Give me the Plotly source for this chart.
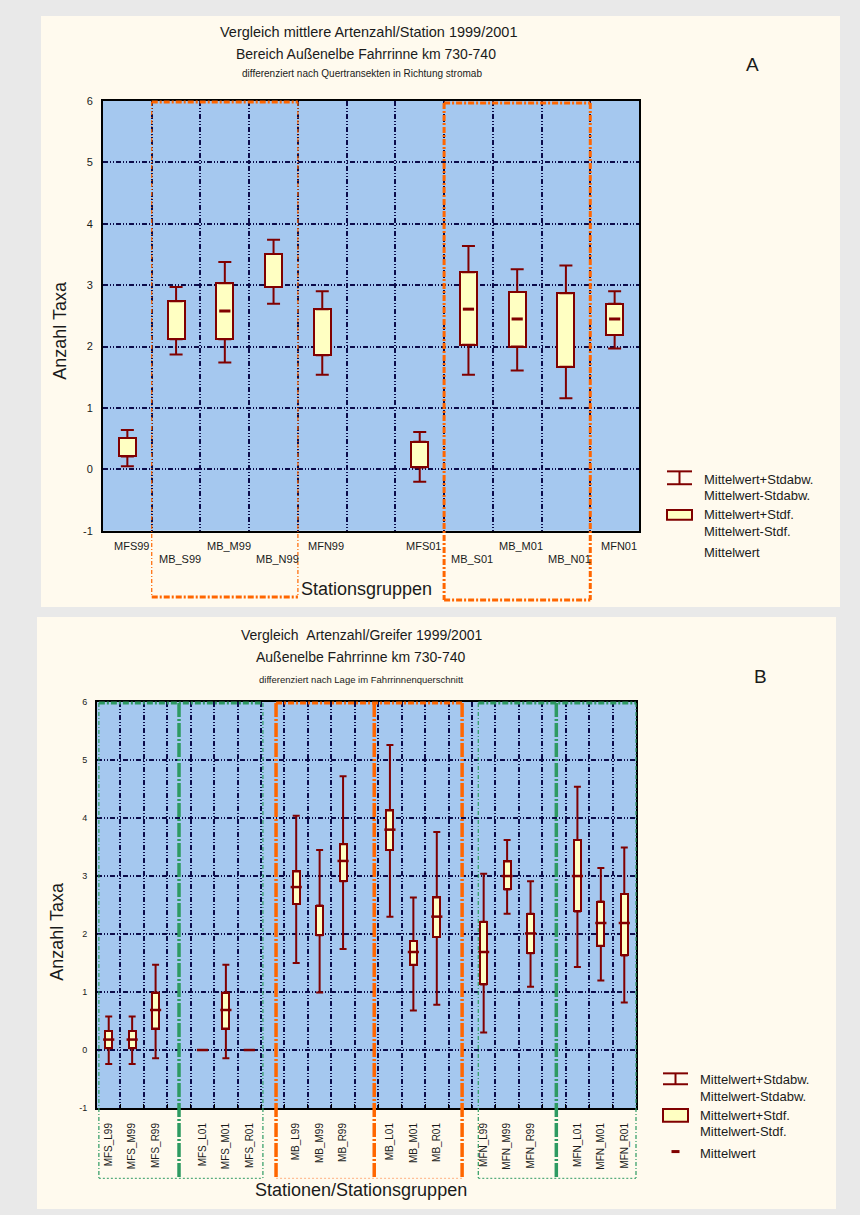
import plotly.graph_objects as go

W, H = 860, 1215

# ---------------- Panel A: Mittelwert / Station ----------------
cats_a = ["MFS99", "MB_S99", "MB_M99", "MB_N99", "MFN99", "",
          "MFS01", "MB_S01", "MB_M01", "MB_N01", "MFN01"]
sd_hi_a = [0.64, 2.97, 3.38, 3.74, 2.90, None, 0.61, 3.64, 3.26, 3.32, 2.90]
se_hi_a = [0.51, 2.74, 3.03, 3.51, 2.61, None, 0.45, 3.21, 2.89, 2.87, 2.70]
mean_a = [None, None, 2.58, None, None, None, None, 2.61, 2.45, None, 2.45]
se_lo_a = [0.21, 2.12, 2.12, 2.97, 1.86, None, 0.03, 2.03, 2.00, 1.67, 2.19]
sd_lo_a = [0.05, 1.87, 1.74, 2.70, 1.54, None, -0.20, 1.54, 1.61, 1.16, 1.97]

# ---------------- Panel B: Artenzahl / Greifer ----------------
cats_b = ["MFS_L99", "MFS_M99", "MFS_R99", "",
          "MFS_L01", "MFS_M01", "MFS_R01", "",
          "MB_L99", "MB_M99", "MB_R99", "",
          "MB_L01", "MB_M01", "MB_R01", "",
          "MFN_L99", "MFN_M99", "MFN_R99", "",
          "MFN_L01", "MFN_M01", "MFN_R01"]
sd_hi_b = [0.58, 0.58, 1.47, None, 0.0, 1.47, 0.0, None, 4.04, 3.45, 4.72, None,
           5.26, 2.63, 3.76, None, 3.04, 3.62, 2.91, None, 4.54, 3.14, 3.49]
se_hi_b = [0.33, 0.33, 0.99, None, 0.0, 0.99, 0.0, None, 3.08, 2.49, 3.55, None,
           4.13, 1.88, 2.63, None, 2.21, 3.25, 2.35, None, 3.62, 2.56, 2.69]
mean_b = [0.18, 0.18, 0.69, None, 0.0, 0.69, 0.0, None, 2.81, None, 3.26, None,
          3.80, 1.69, 2.30, None, 1.69, 3.00, 2.01, None, 3.00, 2.19, 2.19]
se_lo_b = [0.03, 0.03, 0.37, None, 0.0, 0.37, 0.0, None, 2.52, 1.98, 2.91, None,
           3.45, 1.47, 1.95, None, 1.13, 2.77, 1.67, None, 2.39, 1.80, 1.63]
sd_lo_b = [-0.24, -0.24, -0.14, None, 0.0, -0.14, 0.0, None, 1.50, 0.99, 1.74, None,
           2.30, 0.68, 0.78, None, 0.30, 2.35, 1.09, None, 1.43, 1.20, 0.82]

y_ticks = [-1, 0, 1, 2, 3, 4, 5, 6]

# group frames in panel B (x in category units)
green_groups_b = [(-0.42, 6.58), (15.77, 22.5)]
green_splits_b = [3.0, 19.1]
orange_lines_b = [7.14, 11.33, 15.08]
# group frames in panel A (x in category units)
orange_groups_a = [(0.5, 3.5), (6.5, 9.5)]

# ---------------- styling ----------------
FONT = "Liberation Sans, Arial, sans-serif"
RED = "#800000"
BOXFILL = "#ffffc2"
PANEL = "#fffaee"
PAGE = "#e9e9e9"
BLUE = "#a5c8ef"
GRID = "#0c0c4a"
ORANGE = "#ff6600"
GREEN = "#2e9a62"
GRIDDASH = "5px,2px,1px,2px,1px,2px"
TXT = "#1a1a1a"

# plot rectangles in pixels (left, right, top, bottom)
A_L, A_R, A_T, A_B = 103, 639, 96, 530
B_L, B_R, B_T, B_B = 97, 636, 703, 1113


def pxx(x):
    return x / W


def pxy(y):
    return 1 - y / H


def xa_paper(v, n, left, right):
    return pxx(left + (v + 0.5) / n * (right - left))


fig = go.Figure()


def add_boxes(cats, sd_hi, se_hi, mean, se_lo, sd_lo, xa, ya, bw, capw, msize, mwidth):
    idx = [i for i in range(len(cats)) if se_hi[i] is not None]
    fig.add_trace(go.Bar(
        x=idx, base=[se_lo[i] for i in idx], y=[se_hi[i] - se_lo[i] for i in idx],
        width=bw, marker=dict(color=BOXFILL, line=dict(color=RED, width=2)),
        xaxis=xa, yaxis=ya, showlegend=False, hoverinfo="skip"))
    # upper whisker: box top -> mean + SD
    fig.add_trace(go.Scatter(
        x=idx, y=[se_hi[i] for i in idx], mode="markers",
        marker=dict(size=1, color="rgba(0,0,0,0)"),
        error_y=dict(type="data", symmetric=False,
                     array=[sd_hi[i] - se_hi[i] for i in idx],
                     arrayminus=[0] * len(idx),
                     color=RED, thickness=2, width=capw),
        xaxis=xa, yaxis=ya, showlegend=False, hoverinfo="skip"))
    # lower whisker: box bottom -> mean - SD
    fig.add_trace(go.Scatter(
        x=idx, y=[se_lo[i] for i in idx], mode="markers",
        marker=dict(size=1, color="rgba(0,0,0,0)"),
        error_y=dict(type="data", symmetric=False,
                     array=[0] * len(idx),
                     arrayminus=[se_lo[i] - sd_lo[i] for i in idx],
                     color=RED, thickness=2, width=capw),
        xaxis=xa, yaxis=ya, showlegend=False, hoverinfo="skip"))
    mi = [i for i in range(len(cats)) if mean[i] is not None]
    fig.add_trace(go.Scatter(
        x=mi, y=[mean[i] for i in mi], mode="markers",
        marker=dict(symbol="line-ew", size=msize, color=RED,
                    line=dict(color=RED, width=mwidth)),
        xaxis=xa, yaxis=ya, showlegend=False, hoverinfo="skip"))


add_boxes(cats_a, sd_hi_a, se_hi_a, mean_a, se_lo_a, sd_lo_a, "x", "y", 0.35, 6.5, 8, 3)
add_boxes(cats_b, sd_hi_b, se_hi_b, mean_b, se_lo_b, sd_lo_b, "x2", "y2", 0.30, 3.5, 8, 2.5)

na, nb = len(cats_a), len(cats_b)

common_y = dict(range=[-1, 6], tickvals=y_ticks, ticktext=[str(v) for v in y_ticks],
                showgrid=True, gridcolor=GRID,
                gridwidth=2, griddash=GRIDDASH, zeroline=False, showline=True,
                mirror=True, linecolor="black", linewidth=2, ticks="",
                ticklabelstandoff=6)

fig.update_layout(
    width=W, height=H, autosize=False, margin=dict(l=0, r=0, t=0, b=0),
    paper_bgcolor=PAGE, plot_bgcolor="rgba(0,0,0,0)",
    barmode="overlay", bargap=0, showlegend=False,
    font=dict(family=FONT, color=TXT),
    xaxis=dict(domain=[pxx(A_L), pxx(A_R)], range=[-0.5, na - 0.5], anchor="y",
               tickvals=[], showticklabels=False, showgrid=False, zeroline=False,
               showline=True, mirror=True, linecolor="black", linewidth=2,
               minor=dict(tickvals=[i + 0.5 for i in range(na - 1)], showgrid=True,
                          gridcolor=GRID, gridwidth=2, griddash=GRIDDASH, ticks="")),
    yaxis=dict(domain=[pxy(A_B), pxy(A_T)], anchor="x",
               tickfont=dict(size=11, family=FONT, color=TXT), **common_y),
    xaxis2=dict(domain=[pxx(B_L), pxx(B_R)], range=[-0.5, nb - 0.5], anchor="y2",
                tickvals=[i for i, c in enumerate(cats_b) if c],
                ticktext=[c for c in cats_b if c], tickangle=-90,
                tickfont=dict(size=10, family=FONT, color=TXT), ticks="",
                ticklabelstandoff=9,
                showgrid=False, zeroline=False, showline=True, mirror=True,
                linecolor="black", linewidth=2,
                minor=dict(tickvals=[i + 0.5 for i in range(nb - 1)], showgrid=True,
                           gridcolor=GRID, gridwidth=2, griddash=GRIDDASH,
                           ticks="inside", ticklen=4, tickcolor="black")),
    yaxis2=dict(domain=[pxy(B_B), pxy(B_T)], anchor="x2",
                tickfont=dict(size=9, family=FONT, color=TXT), **common_y),
)

shapes = []


def rect(x0, y0, x1, y1, fill, line=None, layer="below"):
    shapes.append(dict(type="rect", xref="paper", yref="paper",
                       x0=pxx(x0), x1=pxx(x1), y0=pxy(y0), y1=pxy(y1),
                       fillcolor=fill, line=line or dict(width=0), layer=layer))


def seg(x0, y0, x1, y1, color, width, dash="solid"):
    shapes.append(dict(type="line", xref="paper", yref="paper",
                       x0=x0, x1=x1, y0=y0, y1=y1, layer="above",
                       line=dict(color=color, width=width, dash=dash)))


# page panels and plot backgrounds
rect(41, 10, 840, 607, PANEL)
rect(37, 617, 836, 1215, PANEL)
rect(A_L, A_T, A_R, A_B, BLUE)
rect(B_L, B_T, B_R, B_B, BLUE)

THICK = "6px,2px,2px,2px"
THIN = "4px,2px,1px,2px"

# panel A group frames
for k, (g0, g1) in enumerate(orange_groups_a):
    x0 = xa_paper(g0, na, A_L, A_R)
    x1 = xa_paper(g1, na, A_L, A_R)
    top = pxy(A_T + (1 if k == 0 else 2))
    bot = pxy(597 if k == 0 else 600)
    side_w = 1.2 if k == 0 else 3
    seg(x0, top, x1, top, ORANGE, 3, THICK)
    seg(x0, bot, x1, bot, ORANGE, 3, THICK)
    seg(x0, top, x0, bot, ORANGE, side_w, THIN if k == 0 else THICK)
    seg(x1, top, x1, bot, ORANGE, side_w, THIN if k == 0 else THICK)

# panel B group frames
b_top = pxy(B_T + 1)
b_bot = pxy(1184)
for g0, g1 in green_groups_b:
    x0 = xa_paper(g0, nb, B_L, B_R)
    x1 = xa_paper(g1, nb, B_L, B_R)
    seg(x0, b_top, x1, b_top, GREEN, 3, THICK)
    seg(x0, b_bot, x1, b_bot, GREEN, 1, "2px,2px")
    seg(x0, b_top, x0, b_bot, GREEN, 1.2, THIN)
    seg(x1, b_top, x1, b_bot, GREEN, 1.2, THIN)
for g in green_splits_b:
    x = xa_paper(g, nb, B_L, B_R)
    seg(x, b_top, x, b_bot, GREEN, 3.5, "14px,2px,2px,2px")
o0 = xa_paper(orange_lines_b[0], nb, B_L, B_R)
o1 = xa_paper(orange_lines_b[-1], nb, B_L, B_R)
seg(o0, b_top, o1, b_top, ORANGE, 3, THICK)
seg(o0, b_bot, o1, b_bot, "#ffb080", 1, "2px,2px")
for g in orange_lines_b:
    x = xa_paper(g, nb, B_L, B_R)
    seg(x, b_top, x, b_bot, ORANGE, 3.5, "14px,2px,2px,2px")


# legend keys
def legend_keys(x0, x1, wy0, wy1, by0, by1, mean_y=None):
    xm = (x0 + x1) / 2
    seg(pxx(xm), pxy(wy0), pxx(xm), pxy(wy1), RED, 2)
    seg(pxx(x0), pxy(wy0), pxx(x1), pxy(wy0), RED, 2)
    seg(pxx(x0), pxy(wy1), pxx(x1), pxy(wy1), RED, 2)
    rect(x0, by0, x1, by1, BOXFILL, dict(color=RED, width=2), layer="above")
    if mean_y is not None:
        seg(pxx(xm - 4), pxy(mean_y), pxx(xm + 4), pxy(mean_y), RED, 3)


legend_keys(667, 692, 470, 483, 509, 519)
legend_keys(663, 688, 1078, 1089, 1114, 1127, 1157)

fig.update_layout(shapes=shapes)

ann = []


def text(x, y, s, size, xanchor="center", angle=0, yanchor="middle", xref="paper", xshift=0):
    ann.append(dict(x=x, y=y, xref=xref, yref="paper", text=s, showarrow=False,
                    xanchor=xanchor, yanchor=yanchor, textangle=angle, xshift=xshift,
                    font=dict(family=FONT, size=size, color=TXT)))


# titles panel A
text(pxx(368), pxy(26), "Vergleich mittlere Artenzahl/Station 1999/2001", 14.5)
text(pxx(366), pxy(48), "Bereich Außenelbe Fahrrinne km 730-740", 14)
text(pxx(362), pxy(68), "differenziert nach Quertransekten in Richtung stromab", 10)
text(pxx(752), pxy(59), "A", 19)
# titles panel B
text(pxx(361), pxy(635), "Vergleich&nbsp;&nbsp;Artenzahl/Greifer 1999/2001", 14)
text(pxx(361), pxy(657), "Außenelbe Fahrrinne km 730-740", 14)
text(pxx(361), pxy(680), "differenziert nach Lage im Fahrrinnenquerschnitt", 9.5)
text(pxx(760), pxy(677), "B", 19)

# axis titles
text(pxx(60), pxy(328), "Anzahl Taxa", 18, angle=-90)
text(pxx(366), pxy(589), "Stationsgruppen", 18)
text(pxx(57), pxy(934), "Anzahl Taxa", 18, angle=-90)
text(pxx(361), pxy(1196), "Stationen/Stationsgruppen", 18)

# staggered category labels panel A
for i, c in enumerate(cats_a):
    if c:
        yy = 545 if i % 2 == 0 else 559
        ann.append(dict(x=i, y=pxy(yy), xref="x", yref="paper", text=c, showarrow=False,
                        xanchor="center", yanchor="middle", xshift=4,
                        font=dict(family=FONT, size=11, color=TXT)))

# legend texts
for yy, s in [(478, "Mittelwert+Stdabw."), (494, "Mittelwert-Stdabw."),
              (514, "Mittelwert+Stdf."), (531, "Mittelwert-Stdf."), (552, "Mittelwert")]:
    text(pxx(702), pxy(yy), s, 13, xanchor="left")
for yy, s in [(1084, "Mittelwert+Stdabw."), (1101, "Mittelwert-Stdabw."),
              (1121, "Mittelwert+Stdf."), (1137, "Mittelwert-Stdf."), (1159, "Mittelwert")]:
    text(pxx(698), pxy(yy), s, 13, xanchor="left")

fig.update_layout(annotations=ann)

fig.write_html("out.html")
